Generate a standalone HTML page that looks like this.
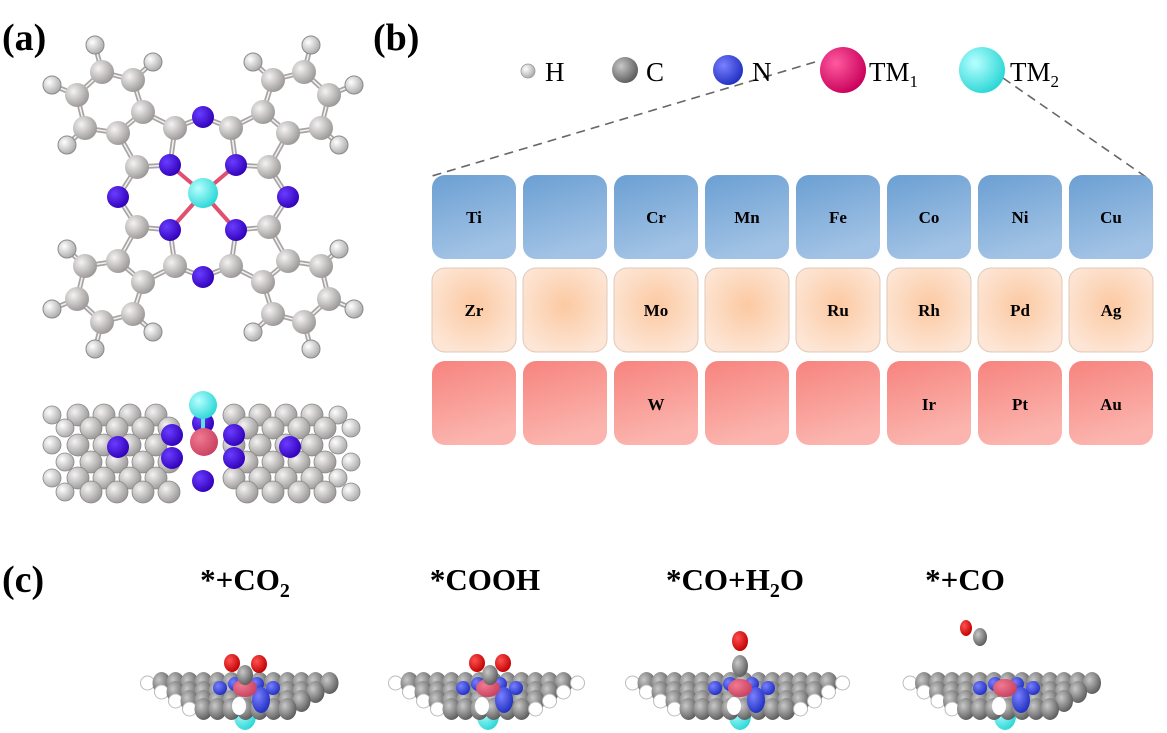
<!DOCTYPE html>
<html><head><meta charset="utf-8">
<style>
html,body{margin:0;padding:0;background:#fff;}
svg{display:block;}
.t{font-family:"Liberation Serif",serif;}
</style></head>
<body>
<svg id="s" width="1167" height="733" viewBox="0 0 1167 733" xmlns="http://www.w3.org/2000/svg">
<defs>
<radialGradient id="gW" cx="35%" cy="35%" r="70%"><stop offset="0" stop-color="#fff"/><stop offset="1" stop-color="#a9a9a9"/></radialGradient>
<radialGradient id="gC" cx="35%" cy="35%" r="70%"><stop offset="0" stop-color="#f4f2f2"/><stop offset="1" stop-color="#9a9696"/></radialGradient>
<radialGradient id="gG" cx="35%" cy="35%" r="70%"><stop offset="0" stop-color="#c8c8c8"/><stop offset="1" stop-color="#5a5a5a"/></radialGradient>
<radialGradient id="gN" cx="35%" cy="35%" r="70%"><stop offset="0" stop-color="#6a3cff"/><stop offset="1" stop-color="#3000b8"/></radialGradient>
<radialGradient id="gB" cx="35%" cy="35%" r="70%"><stop offset="0" stop-color="#7a80ff"/><stop offset="1" stop-color="#1f2fc0"/></radialGradient>
<radialGradient id="gT2" cx="35%" cy="35%" r="70%"><stop offset="0" stop-color="#b8ffff"/><stop offset="1" stop-color="#2ad6d6"/></radialGradient>
<radialGradient id="gT1" cx="35%" cy="35%" r="70%"><stop offset="0" stop-color="#ff5aa0"/><stop offset="1" stop-color="#c8005a"/></radialGradient>
<radialGradient id="gP" cx="35%" cy="35%" r="70%"><stop offset="0" stop-color="#f07a90"/><stop offset="1" stop-color="#c84060"/></radialGradient>
<radialGradient id="gR" cx="35%" cy="35%" r="70%"><stop offset="0" stop-color="#ff5050"/><stop offset="1" stop-color="#c00000"/></radialGradient>
<linearGradient id="bl" x1="0" y1="0" x2="0.3" y2="1"><stop offset="0" stop-color="#6b9fd3"/><stop offset="1" stop-color="#a2c3e5"/></linearGradient>
<radialGradient id="pe" cx="50%" cy="45%" r="60%"><stop offset="0" stop-color="#fcc9a2"/><stop offset="1" stop-color="#fde6d6"/></radialGradient>
<linearGradient id="rd" x1="0" y1="0" x2="0.3" y2="1"><stop offset="0" stop-color="#f7837e"/><stop offset="1" stop-color="#fbb5ae"/></linearGradient>
</defs>
<g id="mol"></g>

<text class="t" x="2" y="50" font-size="38" font-weight="bold">(a)</text>
<text class="t" x="373" y="50" font-size="38" font-weight="bold">(b)</text>
<text class="t" x="2" y="592" font-size="38" font-weight="bold">(c)</text>

<line x1="815" y1="62" x2="432" y2="176" stroke="#666" stroke-width="1.6" stroke-dasharray="9,6"/>
<line x1="1003" y1="78" x2="1146" y2="177" stroke="#666" stroke-width="1.6" stroke-dasharray="9,6"/>
<circle cx="528" cy="71" r="7" fill="url(#gW)" stroke="#999" stroke-width="0.8"/>
<text class="t" x="545" y="81" font-size="27">H</text>
<circle cx="625" cy="70" r="13" fill="url(#gG)"/>
<text class="t" x="646" y="81" font-size="27">C</text>
<circle cx="728" cy="70" r="15" fill="url(#gB)"/>
<text class="t" x="752" y="81" font-size="27">N</text>
<circle cx="843" cy="70" r="23" fill="url(#gT1)"/>
<text class="t" x="869" y="81" font-size="27">TM<tspan font-size="17" dy="6">1</tspan></text>
<circle cx="982" cy="70" r="23" fill="url(#gT2)"/>
<text class="t" x="1010" y="81" font-size="27">TM<tspan font-size="17" dy="6">2</tspan></text>

<g id="grid"></g>

<g class="t" font-weight="bold" text-anchor="middle">
<text x="245" y="590" font-size="31">*+CO<tspan font-size="20" dy="7">2</tspan></text>
<text x="485" y="590" font-size="31">*COOH</text>
<text x="735" y="590" font-size="31">*CO+H<tspan font-size="20" dy="7">2</tspan><tspan dy="-7">O</tspan></text>
<text x="965" y="590" font-size="31">*+CO</text>
</g>
<g class="t" font-weight="bold" text-anchor="middle" font-size="17">
<text x="474" y="223">Ti</text><text x="656" y="223">Cr</text><text x="747" y="223">Mn</text><text x="838" y="223">Fe</text><text x="929" y="223">Co</text><text x="1020" y="223">Ni</text><text x="1111" y="223">Cu</text>
<text x="474" y="316">Zr</text><text x="656" y="316">Mo</text><text x="838" y="316">Ru</text><text x="929" y="316">Rh</text><text x="1020" y="316">Pd</text><text x="1111" y="316">Ag</text>
<text x="656" y="410">W</text><text x="929" y="410">Ir</text><text x="1020" y="410">Pt</text><text x="1111" y="410">Au</text>
</g>
</svg>
<script>
(function(){
var NS="http://www.w3.org/2000/svg";
function el(p,n,a){var e=document.createElementNS(NS,n);for(var k in a)e.setAttribute(k,a[k]);p.appendChild(e);return e;}
var grid=document.getElementById('grid');
var fills=['url(#bl)','url(#pe)','url(#rd)'],rows=[175,268,361];
for(var r=0;r<3;r++)for(var c=0;c<8;c++){
 el(grid,'rect',{x:432+c*91,y:rows[r],width:84,height:84,rx:13,fill:fills[r],stroke:r==1?'#e0c8b8':'none','stroke-width':1});
}
var m=document.getElementById('mol');
var q=[['C',175,128],['C',137,167],['C',143,112],['C',118,133],['C',133,80],['C',102,72],['C',77,95],['C',85,128],
 ['H',95,45],['H',153,62],['H',52,85],['H',67,145]];
var A=[['T',203,193],['N',170,165],['N',236,165],['N',170,230],['N',236,230],['N',203,117],['N',203,277],['N',118,197],['N',288,197]];
q.forEach(function(a){var x=a[1],y=a[2];
 A.push([a[0],x,y]);A.push([a[0],406-x,y]);A.push([a[0],x,394-y]);A.push([a[0],406-x,394-y]);});
var bonds=el(m,'g',{});
for(var i=0;i<A.length;i++)for(var j=i+1;j<A.length;j++){
 var a=A[i],b=A[j];if(a[0]=='T'||b[0]=='T')continue;if(a[0]=='H'&&b[0]=='H')continue;
 var d=Math.hypot(a[1]-b[1],a[2]-b[2]);
 if(d<40){el(bonds,'line',{x1:a[1],y1:a[2],x2:b[1],y2:b[2],stroke:'#a8a4a4','stroke-width':5});
  el(bonds,'line',{x1:a[1],y1:a[2],x2:b[1],y2:b[2],stroke:'#f2f0f0','stroke-width':1.6});}
}
[[170,165],[236,165],[170,230],[236,230]].forEach(function(p){el(bonds,'line',{x1:203,y1:193,x2:p[0],y2:p[1],stroke:'#e05070','stroke-width':4});});
var R={C:12,H:9,N:11,T:15},F={C:'url(#gC)',H:'url(#gW)',N:'url(#gN)',T:'url(#gT2)'};
A.forEach(function(a){el(m,'circle',{cx:a[1],cy:a[2],r:R[a[0]],fill:F[a[0]],stroke:a[0]=='H'?'#8a8a8a':'none','stroke-width':1});});
var side=el(m,'g',{});
var ys=[415,428,445,462,478,492];
for(var k=0;k<ys.length;k++){
 for(var x=52+(k%2)*13;x<=355;x+=26){
  if(Math.abs(x-203)<30)continue;
  var h=(x<75||x>330);
  el(side,'circle',{cx:x,cy:ys[k],r:h?9:11,fill:h?'url(#gW)':'url(#gC)',stroke:'#888','stroke-width':0.8});
 }
}
[[118,447],[172,435],[172,458],[234,435],[234,458],[290,447],[203,481],[203,423]].forEach(function(p){el(side,'circle',{cx:p[0],cy:p[1],r:11,fill:'url(#gN)'});});
el(side,'line',{x1:203,y1:408,x2:203,y2:440,stroke:'#60e0e0','stroke-width':4});
el(side,'circle',{cx:204,cy:442,r:14,fill:'url(#gP)'});
el(side,'circle',{cx:203,cy:405,r:14,fill:'url(#gT2)'});
function slab(cx,w){
 var g=el(m,'g',{});
 el(g,'ellipse',{cx:cx,cy:716,rx:11,ry:14,fill:'url(#gT2)'});
 var rowsY=[683,692,701,709];
 for(var k=0;k<rowsY.length;k++){
  var hw=w/2-k*14;
  for(var x=cx-hw;x<=cx+hw;x+=14){
   var edge=(x<cx-hw+8||x>cx+hw-8);
   el(g,'ellipse',{cx:x,cy:rowsY[k],rx:edge?7:9,ry:edge?7:11,fill:edge?'#fff':'url(#gG)',stroke:edge?'#bbb':'none','stroke-width':1});
  }
 }
 [[-25,688],[-10,684],[12,684],[28,688]].forEach(function(p){el(g,'ellipse',{cx:cx+p[0],cy:p[1],rx:7,ry:7,fill:'url(#gB)'});});
 el(g,'ellipse',{cx:cx+16,cy:700,rx:9,ry:13,fill:'url(#gB)'});
 el(g,'ellipse',{cx:cx,cy:688,rx:12,ry:9,fill:'url(#gP)'});
 el(g,'ellipse',{cx:cx-6,cy:706,rx:7,ry:9,fill:'#fff'});
 return g;
}
function ball(x,y,rx,ry,f){el(m,'ellipse',{cx:x,cy:y,rx:rx,ry:ry,fill:f});}
slab(245,195);ball(245,675,8,10,'url(#gG)');ball(232,663,8,9,'url(#gR)');ball(259,664,8,9,'url(#gR)');
slab(488,185);ball(490,675,8,10,'url(#gG)');ball(477,663,8,9,'url(#gR)');ball(503,663,8,9,'url(#gR)');
slab(740,215);ball(740,666,8,11,'url(#gG)');ball(740,641,8,10,'url(#gR)');
slab(1005,190);ball(980,637,7,9,'url(#gG)');ball(966,628,6,8,'url(#gR)');
})();
</script>
</body></html>
